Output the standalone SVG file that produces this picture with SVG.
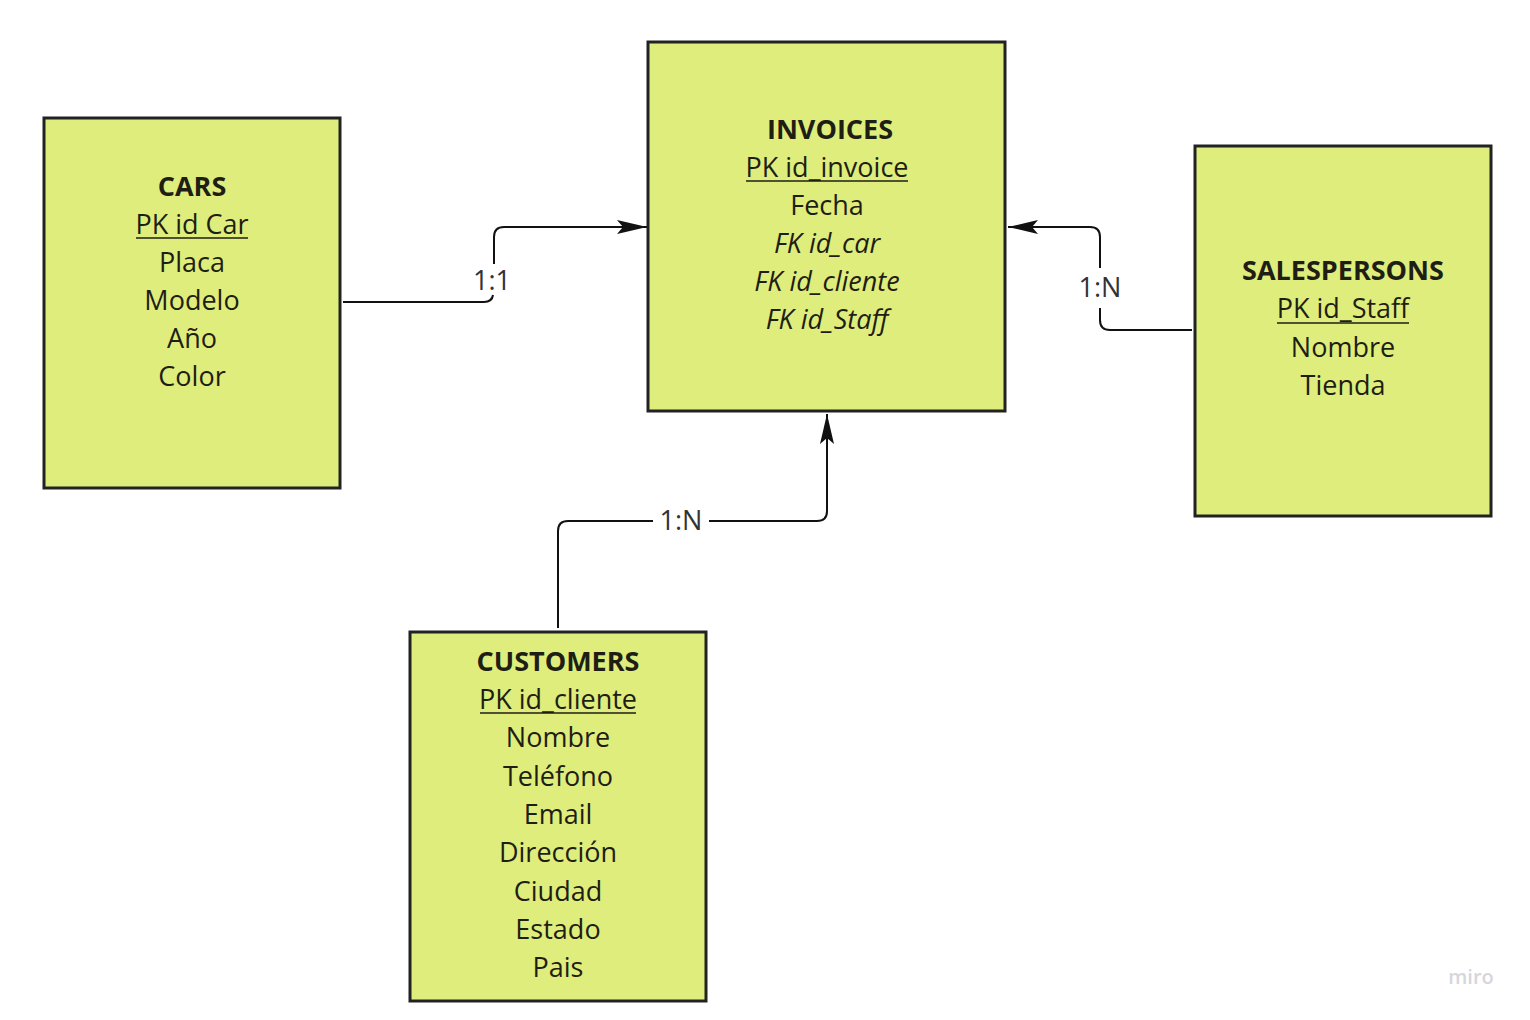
<svg xmlns="http://www.w3.org/2000/svg" width="1530" height="1020" viewBox="0 0 1530 1020">
<defs>
<style>
.box{fill:#deed7b;stroke:#222;stroke-width:3}
.t{font-family:"Open Sans","Liberation Sans",sans-serif;font-size:27px;fill:#1e1e14;text-anchor:middle}
.b{font-weight:bold}
.i{font-style:italic}
.ul{stroke:#1e1e14;stroke-width:1.6}
.c{fill:none;stroke:#111;stroke-width:2}
.lbl{font-family:"Open Sans","Liberation Sans",sans-serif;font-size:27px;fill:#333;text-anchor:middle}
</style>
<marker id="arr" viewBox="0 0 30 14" refX="30" refY="7" markerWidth="30" markerHeight="14" markerUnits="userSpaceOnUse" orient="auto">
<path d="M0,0 L30,7 L0,14 L6,7 Z" fill="#111"/>
</marker>
</defs>
<rect width="1530" height="1020" fill="#fff"/>
<g id="connectors">
<path class="c" d="M343,302 H484 Q492,302 493,295"/>
<path class="c" d="M494,264 V237 Q494,227 504,227 H647" marker-end="url(#arr)"/>
<path class="c" d="M1192,330 H1110 Q1100,330 1100,320 V308"/>
<path class="c" d="M1100,268 V237 Q1100,227 1090,227 H1008" marker-end="url(#arr)"/>
<path class="c" d="M558,628 V531 Q558,521 568,521 H653"/>
<path class="c" d="M709,521 H817 Q827,521 827,511 V414" marker-end="url(#arr)"/>
<text class="lbl" x="492" y="290">1:1</text>
<text class="lbl" x="1100" y="297">1:N</text>
<text class="lbl" x="681" y="530">1:N</text>
</g>
<g id="cars">
<rect class="box" x="44" y="118" width="296" height="370"/>
<text class="t b" x="192" y="196">CARS</text>
<text class="t" x="192" y="234">PK id Car</text>
<line class="ul" x1="136" y1="238" x2="248" y2="238"/>
<text class="t" x="192" y="272">Placa</text>
<text class="t" x="192" y="310">Modelo</text>
<text class="t" x="192" y="348">Año</text>
<text class="t" x="192" y="386">Color</text>
</g>
<g id="invoices">
<rect class="box" x="648" y="42" width="357" height="369"/>
<text class="t b" x="830" y="139">INVOICES</text>
<text class="t" x="827" y="177">PK id_invoice</text>
<line class="ul" x1="746" y1="181" x2="908" y2="181"/>
<text class="t" x="827" y="215">Fecha</text>
<text class="t i" x="827" y="253">FK id_car</text>
<text class="t i" x="827" y="291">FK id_cliente</text>
<text class="t i" x="827" y="329">FK id_Staff</text>
</g>
<g id="salespersons">
<rect class="box" x="1195" y="146" width="296" height="370"/>
<text class="t b" x="1343" y="280">SALESPERSONS</text>
<text class="t" x="1343" y="318">PK id_Staff</text>
<line class="ul" x1="1277" y1="323" x2="1409" y2="323"/>
<text class="t" x="1343" y="357">Nombre</text>
<text class="t" x="1343" y="395">Tienda</text>
</g>
<g id="customers">
<rect class="box" x="410" y="632" width="296" height="369"/>
<text class="t b" x="558" y="671">CUSTOMERS</text>
<text class="t" x="558" y="709">PK id_cliente</text>
<line class="ul" x1="480" y1="713" x2="636" y2="713"/>
<text class="t" x="558" y="747">Nombre</text>
<text class="t" x="558" y="786">Teléfono</text>
<text class="t" x="558" y="824">Email</text>
<text class="t" x="558" y="862">Dirección</text>
<text class="t" x="558" y="901">Ciudad</text>
<text class="t" x="558" y="939">Estado</text>
<text class="t" x="558" y="977">Pais</text>
</g>
<text x="1471" y="984" font-family="'Open Sans','Liberation Sans',sans-serif" font-size="20" font-weight="600" fill="#d6d6dc" text-anchor="middle">miro</text>
</svg>
